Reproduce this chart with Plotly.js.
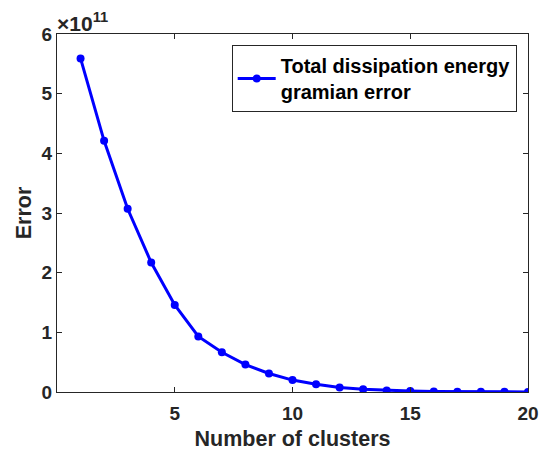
<!DOCTYPE html>
<html>
<head>
<meta charset="utf-8">
<script src="https://cdn.plot.ly/plotly-3.0.1.min.js"></script>
<style>html,body{margin:0;padding:0;background:#fff;}#chart{width:551px;height:455px;}</style>
</head>
<body>
<div id="chart"></div>
<script>
const clusters = [1,2,3,4,5,6,7,8,9,10,11,12,13,14,15,16,17,18,19,20];
const errorValues = [5.59e11,4.21e11,3.07e11,2.17e11,1.46e11,0.93e11,0.665e11,0.46e11,0.31e11,0.20e11,0.13e11,0.075e11,0.045e11,0.027e11,0.016e11,0.010e11,0.006e11,0.004e11,0.003e11,0.002e11];
const seriesName = "Total dissipation energy<br>gramian error";
const xTicks = [5,10,15,20];
const yTickVals = [0,1e11,2e11,3e11,4e11,5e11,6e11];
const yTickText = ["0","1","2","3","4","5","6"];

const axisColor = "#262626";
const fam = "Liberation Sans, Arial, sans-serif";
const tickFont = {family: fam, size: 19, color: axisColor, weight: "bold"};
const titleFont = {family: fam, size: 21.5, color: axisColor, weight: "bold"};

Plotly.newPlot("chart", [{
  x: clusters, y: errorValues, name: seriesName,
  type: "scatter", mode: "lines+markers",
  line: {color: "#0000ff", width: 3},
  marker: {color: "#0000ff", size: 8}
}], {
  width: 551, height: 455,
  margin: {l: 57, r: 23, t: 34, b: 63},
  paper_bgcolor: "#fff", plot_bgcolor: "#fff",
  font: tickFont,
  showlegend: true,
  legend: {x: 0.976, y: 0.969, xanchor: "right", yanchor: "top",
    bordercolor: axisColor, borderwidth: 1, bgcolor: "#fff", itemwidth: 38,
    font: {family: fam, size: 20, color: "#000", weight: "bold"}, valign: "middle"},
  xaxis: {range: [0, 20], tickvals: xTicks, ticks: "inside", ticklen: 5, tickcolor: axisColor,
    showline: true, linecolor: axisColor, linewidth: 1, mirror: "ticks", showgrid: false, zeroline: false,
    tickfont: tickFont, ticklabelstandoff: 4,
    title: {text: "Number of clusters", font: titleFont, standoff: 8}},
  yaxis: {range: [0, 6e11], tickvals: yTickVals, ticktext: yTickText, ticks: "inside", ticklen: 5, tickcolor: axisColor,
    showline: true, linecolor: axisColor, linewidth: 1, mirror: "ticks", showgrid: false, zeroline: false,
    tickfont: tickFont,
    title: {text: "Error", font: titleFont, standoff: 4}},
  annotations: [{xref: "paper", yref: "paper", x: 0, y: 1, xanchor: "left", yanchor: "bottom",
    text: "×10<sup>11</sup>", showarrow: false, font: {family: fam, size: 21, color: axisColor}, xshift: -2, yshift: -3}]
}, {staticPlot: true});
</script>
</body>
</html>
